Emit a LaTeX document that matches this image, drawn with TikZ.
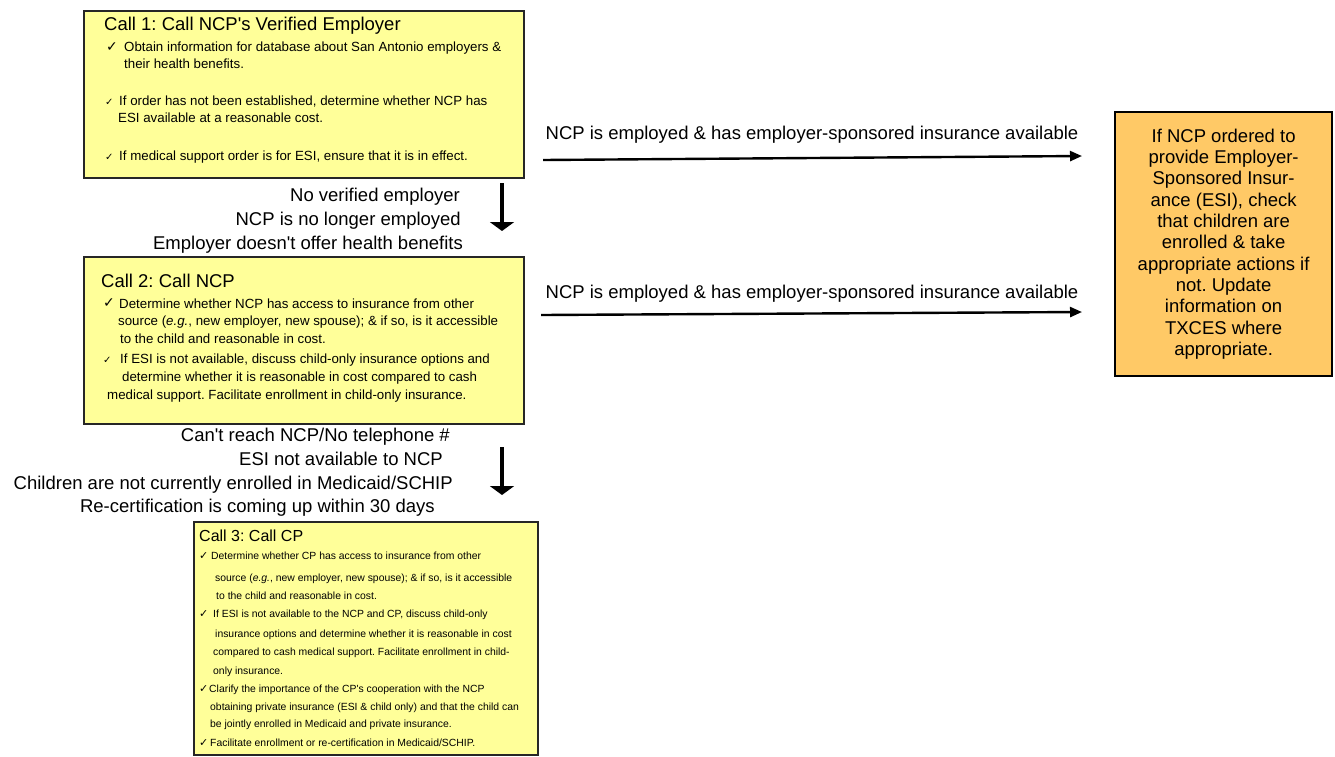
\documentclass[tikz,border=0pt]{standalone}
\usepackage{fontspec}
\setmainfont{Liberation Sans}[Ligatures=TeXOff]
\newfontfamily\dejavu{DejaVu Sans}
\usetikzlibrary{arrows.meta}
\definecolor{yfill}{HTML}{FFFF99}
\definecolor{ofill}{HTML}{FFC966}
\definecolor{bord}{HTML}{262626}
\newcommand\fti{\fontsize{18.5}{21.3}\selectfont}
\newcommand\fbo{\fontsize{13.3}{16}\selectfont}
\newcommand\fbs{\fontsize{10.4}{12.5}\selectfont}
\frenchspacing
\begin{document}
\frenchspacing
\begin{tikzpicture}[x=1pt,y=-1pt,
  ybox/.style={draw=bord, line width=1.6pt, fill=yfill, anchor=north west, inner sep=0pt},
  obox/.style={draw=black, line width=2.2pt, fill=ofill, anchor=north west, inner sep=0pt,
               align=center, font=\fti},
  ttl/.style={anchor=base west, inner sep=0pt, font=\fti},
  ttlsm/.style={anchor=base west, inner sep=0pt, font=\fontsize{16}{19}\selectfont},
  tx/.style={anchor=base west, inner sep=0pt, font=\fbo},
  txs/.style={anchor=base west, inner sep=0pt, font=\fbs},
  ckb/.style={anchor=base west, inner sep=0pt, font=\dejavu\fontsize{14}{16}\selectfont},
  cks/.style={anchor=base west, inner sep=0pt, font=\dejavu\fontsize{10}{12}\selectfont},
  ck3/.style={anchor=base west, inner sep=0pt, font=\dejavu\fontsize{11}{12}\selectfont},
  lab/.style={anchor=base east, inner sep=0pt, font=\fti},
  labc/.style={anchor=base, inner sep=0pt, font=\fti},
  harrow/.style={line width=2.4pt, -{Triangle[length=12pt,width=10pt]}},
  varrow/.style={line width=3.5pt, -{Triangle[length=9pt,width=24pt]}}
]
\useasboundingbox (0,0) rectangle (1335,756);

% Box 1
\node[ybox, minimum width=440pt, minimum height=167pt] (c1) at (83,10) {};
\node[ttl] (c1t) at (104,30) {Call 1: Call NCP's Verified Employer};
\node[ckb] (c1k1) at (106,51) {✓};
\node[tx] (c1a) at (124,51) {Obtain information for database about San Antonio employers \&};
\node[tx] (c1b) at (124,68) {their health benefits.};
\node[cks] (c1k2) at (105,105) {✓};
\node[tx] (c1c) at (119,105) {If order has not been established, determine whether NCP has};
\node[tx] (c1d) at (118,122) {ESI available at a reasonable cost.};
\node[cks] (c1k3) at (105,160) {✓};
\node[tx] (c1e) at (119,160) {If medical support order is for ESI, ensure that it is in effect.};

% Box 2
\node[ybox, minimum width=440pt, minimum height=167pt] (c2) at (83,256) {};
\node[ttl] (c2t) at (101,287) {Call 2: Call NCP};
\node[ckb] (c2k1) at (103,307) {✓};
\node[tx] (c2a) at (119,308) {Determine whether NCP has access to insurance from other};
\node[tx] (c2b) at (118,325) {source (\textit{e.g.}, new employer, new spouse); \& if so, is it accessible};
\node[tx] (c2c) at (120,343) {to the child and reasonable in cost.};
\node[cks] (c2k2) at (103,363) {✓};
\node[tx] (c2d) at (120,363) {If ESI is not available, discuss child-only insurance options and};
\node[tx] (c2e) at (122,381) {determine whether it is reasonable in cost compared to cash};
\node[tx] (c2f) at (107,399) {medical support. Facilitate enrollment in child-only insurance.};

% Box 3
\node[ybox, minimum width=344pt, minimum height=233pt] (c3) at (193,521) {};
\node[ttlsm] (c3t) at (199,541) {Call 3: Call CP};
\node[ck3] (c3k1) at (199,559) {✓};
\node[txs] (c3a) at (211,559) {Determine whether CP has access to insurance from other};
\node[txs] (c3b) at (215,581) {source (\textit{e.g.}, new employer, new spouse); \& if so, is it accessible};
\node[txs] (c3c) at (216,599) {to the child and reasonable in cost.};
\node[ck3] (c3k2) at (199,617) {✓};
\node[txs] (c3d) at (213,617) {If ESI is not available to the NCP and CP, discuss child-only};
\node[txs] (c3e) at (215,637) {insurance options and determine whether it is reasonable in cost};
\node[txs] (c3f) at (213,655) {compared to cash medical support. Facilitate enrollment in child-};
\node[txs] (c3g) at (213,674) {only insurance.};
\node[ck3] (c3k3) at (199,692) {✓};
\node[txs] (c3h) at (209,692) {Clarify the importance of the CP's cooperation with the NCP};
\node[txs] (c3i) at (210,710) {obtaining private insurance (ESI \& child only) and that the child can};
\node[txs] (c3j) at (210,727) {be jointly enrolled in Medicaid and private insurance.};
\node[ck3] (c3k4) at (199,746) {✓};
\node[txs] (c3l) at (210,746) {Facilitate enrollment or re-certification in Medicaid/SCHIP.};

% Orange box
\node[obox, minimum width=217pt, minimum height=264pt] (c4) at (1114,111)
  {If NCP ordered to\\provide Employer-\\Sponsored Insur-\\ance (ESI), check\\that children are\\enrolled \& take\\appropriate actions if\\not. Update\\information on\\TXCES where\\appropriate.};

% Labels between box 1 and 2
\node[lab] (l1) at (460,201) {No verified employer};
\node[lab] (l2) at (461,225) {NCP is no longer employed};
\node[lab] (l3) at (463,249) {Employer doesn't offer health benefits};

% Labels between box 2 and 3
\node[lab] (l4) at (450,441) {Can't reach NCP/No telephone \#};
\node[lab] (l5) at (443,465) {ESI not available to NCP};
\node[lab] (l6) at (453,489) {Children are not currently enrolled in Medicaid/SCHIP};
\node[lab] (l7) at (435,512) {Re-certification is coming up within 30 days};

% Horizontal labels
\node[labc] (h1l) at (812,139) {NCP is employed \& has employer-sponsored insurance available};
\node[labc] (h2l) at (812,298) {NCP is employed \& has employer-sponsored insurance available};

% Arrows
\coordinate (h1s) at (543,160);
\coordinate (h1e) at (1082,156);
\coordinate (h2s) at (541,315);
\coordinate (h2e) at (1082,312);
\coordinate (v1s) at (502,183);
\coordinate (v1e) at (502,231);
\coordinate (v2s) at (502,447);
\coordinate (v2e) at (502,495);
\draw[harrow] (h1s) -- (h1e);
\draw[harrow] (h2s) -- (h2e);
\draw[varrow] (v1s) -- (v1e);
\draw[varrow] (v2s) -- (v2e);
\end{tikzpicture}
\end{document}
